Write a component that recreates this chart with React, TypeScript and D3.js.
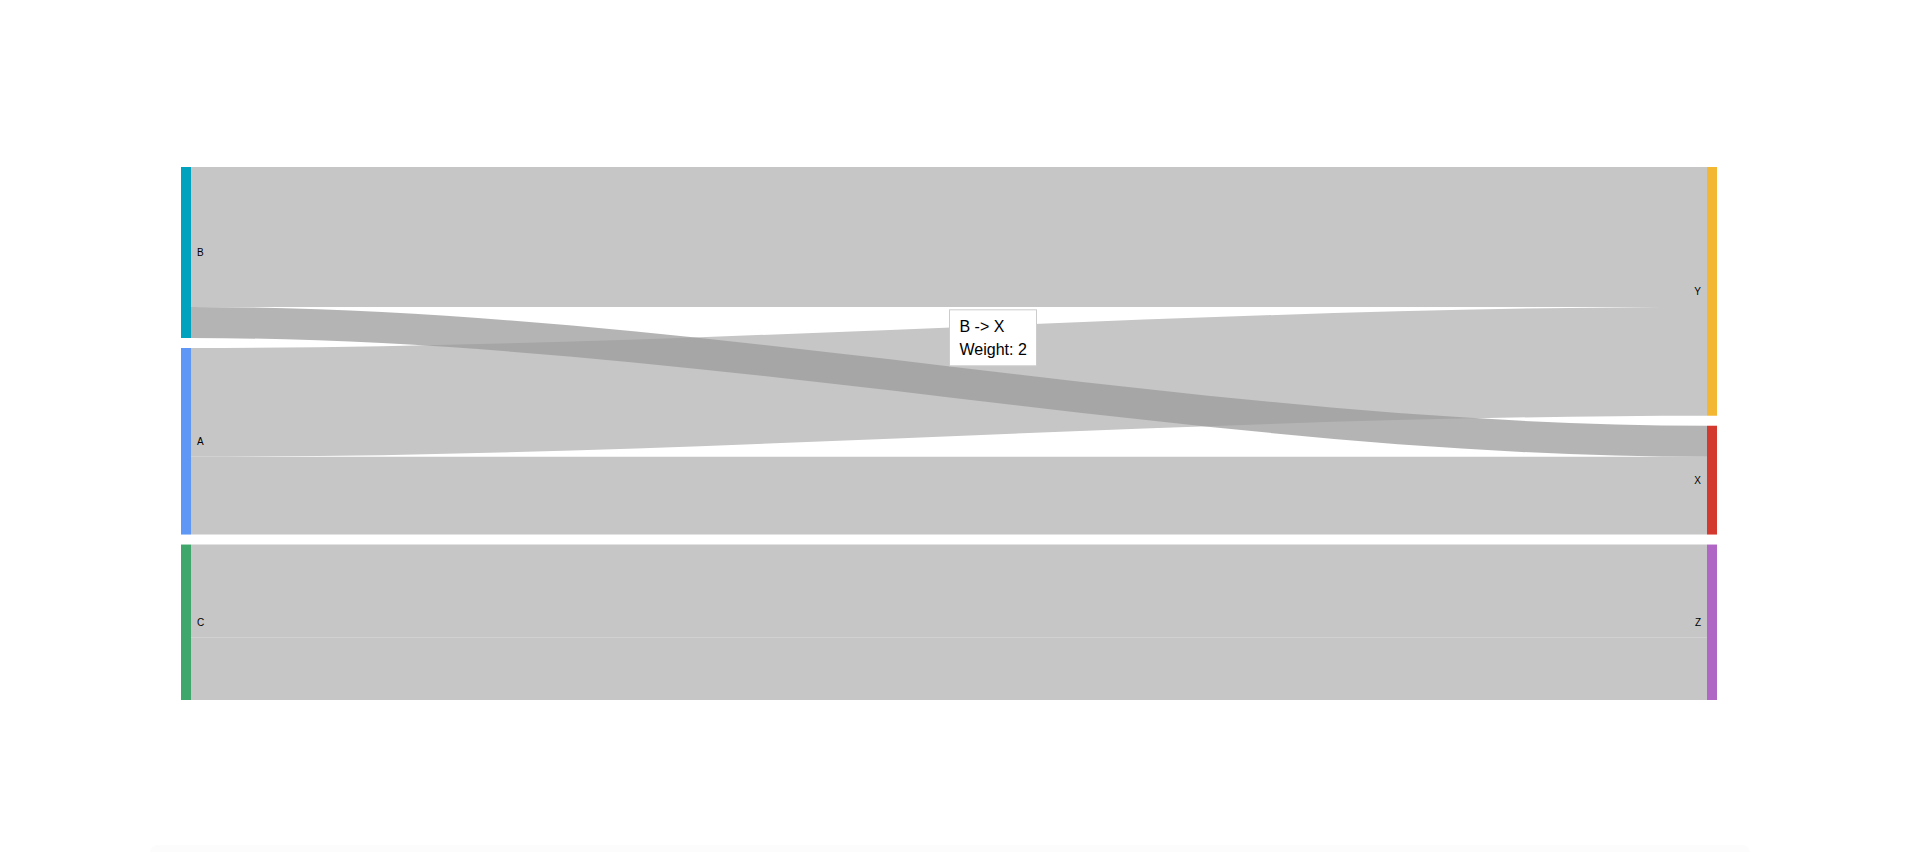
import { useEffect, useRef } from 'react';
import * as d3 from 'd3';

// nodes, left column then right column, top to bottom
const sourceNodes = ['B', 'A', 'C'];
const targetNodes = ['Y', 'X', 'Z'];
const nodeColors: Record<string, string> = {
  B: '#00a2bd',
  A: '#5e97f6',
  C: '#3fa76b',
  Y: '#f3b733',
  X: '#d4392f',
  Z: '#b066c4',
};

// links
const linkFrom = ['B', 'B', 'A', 'A', 'C', 'C'];
const linkTo = ['Y', 'X', 'Y', 'X', 'Z', 'Z'];
const linkWeight = [9, 2, 7, 5, 6, 4];

// the link under the mouse
const hoverFrom = 'B';
const hoverTo = 'X';

const App = () => {
  const svgRef = useRef<SVGSVGElement>(null);

  useEffect(() => {
    const width = 1906;
    const height = 852;
    const margin = { top: 167, bottom: 152 };
    const nodeWidth = 10;
    const nodePadding = 10;

    const svg = d3.select(svgRef.current).attr('width', width).attr('height', height);
    svg.selectAll('*').remove();

    // faint shadow of the chart container at the bottom
    svg.append('rect')
      .attr('x', 150).attr('y', 845)
      .attr('width', 1600).attr('height', 20)
      .attr('rx', 8)
      .attr('fill', '#fcfcfc');

    const links = linkFrom.map((s, i) => ({ source: s, target: linkTo[i], value: linkWeight[i], i }));

    const colTotal = (nodes: string[], key: 'source' | 'target') =>
      d3.sum(nodes, n => d3.sum(links.filter(l => l[key] === n), l => l.value));
    const maxTotal = Math.max(colTotal(sourceNodes, 'source'), colTotal(targetNodes, 'target'));
    const maxCount = Math.max(sourceNodes.length, targetNodes.length);

    const ky = d3.scaleLinear()
      .domain([0, maxTotal])
      .range([0, height - margin.top - margin.bottom - (maxCount - 1) * nodePadding]);

    const x = d3.scalePoint<string>()
      .domain(['left', 'right'])
      .range([181, 1707]);

    type NodeBox = { name: string; x0: number; x1: number; y0: number; y1: number; side: string };
    const boxes: Record<string, NodeBox> = {};
    const place = (nodes: string[], key: 'source' | 'target', side: string) => {
      let y = margin.top;
      nodes.forEach(n => {
        const v = d3.sum(links.filter(l => l[key] === n), l => l.value);
        const x0 = x(side)!;
        boxes[n] = { name: n, x0, x1: x0 + nodeWidth, y0: y, y1: y + ky(v), side };
        y += ky(v) + nodePadding;
      });
    };
    place(sourceNodes, 'source', 'left');
    place(targetNodes, 'target', 'right');

    // stack links at each end, ordered by the node at the other end
    const pos = (n: string) => sourceNodes.includes(n) ? sourceNodes.indexOf(n) : targetNodes.indexOf(n);
    const sy: Record<number, number> = {};
    const ty: Record<number, number> = {};
    sourceNodes.forEach(n => {
      let y = boxes[n].y0;
      links.filter(l => l.source === n)
        .sort((a, b) => pos(a.target) - pos(b.target) || a.i - b.i)
        .forEach(l => { sy[l.i] = y; y += ky(l.value); });
    });
    targetNodes.forEach(n => {
      let y = boxes[n].y0;
      links.filter(l => l.target === n)
        .sort((a, b) => pos(a.source) - pos(b.source) || a.i - b.i)
        .forEach(l => { ty[l.i] = y; y += ky(l.value); });
    });

    // control points at a third and two thirds of the way across
    const linkPath = (l: typeof links[number]) => {
      const x0 = boxes[l.source].x1;
      const x1 = boxes[l.target].x0;
      const xa = x0 + (x1 - x0) / 3;
      const xb = x0 + (x1 - x0) * 2 / 3;
      const h = ky(l.value);
      const p = d3.path();
      p.moveTo(x0, sy[l.i]);
      p.bezierCurveTo(xa, sy[l.i], xb, ty[l.i], x1, ty[l.i]);
      p.lineTo(x1, ty[l.i] + h);
      p.bezierCurveTo(xb, ty[l.i] + h, xa, sy[l.i] + h, x0, sy[l.i] + h);
      p.closePath();
      return p.toString();
    };

    const isHover = (l: typeof links[number]) => l.source === hoverFrom && l.target === hoverTo;
    const ordered = [...links.filter(l => !isHover(l)), ...links.filter(isHover)];

    svg.append('g')
      .selectAll('path')
      .data(ordered)
      .enter().append('path')
      .attr('d', d => linkPath(d))
      .attr('fill', d => isHover(d) ? '#9c9c9c' : '#c6c6c6')
      .attr('fill-opacity', d => isHover(d) ? 0.754 : 1);

    const nodeList = Object.values(boxes);
    svg.append('g')
      .selectAll('rect')
      .data(nodeList)
      .enter().append('rect')
      .attr('x', d => d.x0)
      .attr('y', d => d.y0)
      .attr('width', nodeWidth)
      .attr('height', d => d.y1 - d.y0)
      .attr('fill', d => nodeColors[d.name]);

    svg.append('g')
      .selectAll('text')
      .data(nodeList)
      .enter().append('text')
      .attr('x', d => d.side === 'left' ? d.x1 + 6 : d.x0 - 6)
      .attr('y', d => (d.y0 + d.y1) / 2)
      .attr('dy', '0.35em')
      .attr('text-anchor', d => d.side === 'left' ? 'start' : 'end')
      .style('font-family', 'Arial, "Liberation Sans", sans-serif')
      .style('font-size', '10px')
      .style('fill', '#000')
      .text(d => d.name);

    // tooltip, sitting on top of the hovered link at its middle
    const hl = links.find(isHover)!;
    const tx = (boxes[hl.source].x1 + boxes[hl.target].x0) / 2;
    const tyTop = (sy[hl.i] + ty[hl.i]) / 2;
    const tw = 87;
    const th = 56;
    const tip = svg.append('g').attr('transform', `translate(${tx + 0.5},${tyTop - th - 0.5})`);
    tip.append('rect')
      .attr('width', tw).attr('height', th)
      .attr('fill', '#fff')
      .attr('stroke', '#cccccc')
      .attr('stroke-width', 1);
    tip.append('text')
      .attr('x', 10).attr('y', 22)
      .style('font-family', 'Arial, "Liberation Sans", sans-serif')
      .style('font-size', '16px')
      .style('fill', '#000')
      .text(`${hl.source} -> ${hl.target}`);
    tip.append('text')
      .attr('x', 10).attr('y', 45)
      .style('font-family', 'Arial, "Liberation Sans", sans-serif')
      .style('font-size', '16px')
      .style('fill', '#000')
      .text(`Weight: ${hl.value}`);
  }, []);

  return (
    <div style={{ position: 'fixed', left: 0, top: 0, background: '#fff' }}>
      <svg ref={svgRef} style={{ display: 'block' }}></svg>
    </div>
  );
};

export default App;
